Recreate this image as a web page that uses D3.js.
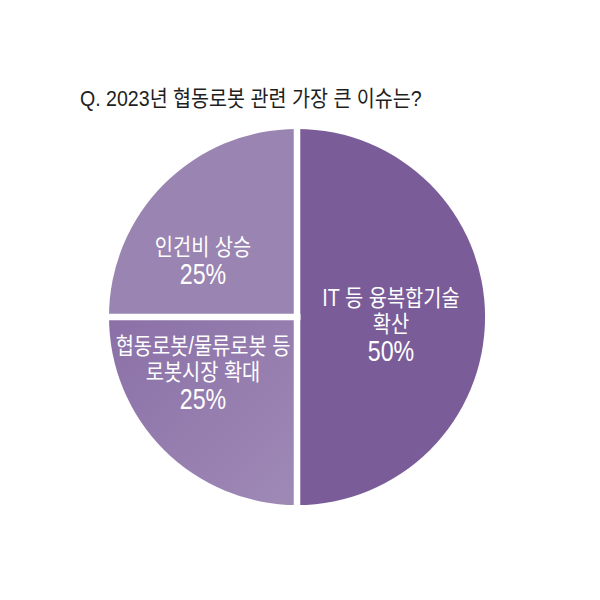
<!DOCTYPE html>
<html>
<head>
<meta charset="utf-8">
<script src="https://cdn.jsdelivr.net/npm/d3@7"></script>
<style>
  html, body { margin: 0; padding: 0; background: #ffffff; }
  svg { display: block; }
  text { font-family: "Liberation Sans", "Noto Sans CJK KR", sans-serif; }
</style>
</head>
<body>
<svg id="chart" width="600" height="600"></svg>
<script>
// Survey: the biggest collaborative-robot issue of 2023
const title = "Q. 2023년 협동로봇 관련 가장 큰 이슈는?";
const categories = [
  ["IT 등 융복합기술", "확산"],
  ["협동로봇/물류로봇 등", "로봇시장 확대"],
  ["인건비 상승"]
];
const shares = [50, 25, 25];
const colors = ["#7a5c99", "#947bae", "#9a84b1"];

const svg = d3.select("#chart");
const cx = 297, cy = 317, R = 188;

// Title
svg.append("text")
  .attr("transform", "translate(80,106) scale(0.89,1)")
  .attr("font-size", 22)
  .attr("fill", "#1e1e1e")
  .text(title);

// Gradient for the lower-left slice
const defs = svg.append("defs");
const grad = defs.append("linearGradient")
  .attr("id", "lowerGrad")
  .attr("x1", "0%").attr("y1", "0%")
  .attr("x2", "100%").attr("y2", "100%");
grad.append("stop").attr("offset", "0%").attr("stop-color", "#8b70a7");
grad.append("stop").attr("offset", "100%").attr("stop-color", "#9f8ab6");

const data = shares.map((v, i) => ({ lines: categories[i], value: v, color: colors[i] }));

const pie = d3.pie().sort(null).value(d => d.value);
const arcs = pie(data);
const arc = d3.arc().innerRadius(0).outerRadius(R);

const g = svg.append("g").attr("transform", `translate(${cx},${cy})`);

g.selectAll("path.slice")
  .data(arcs)
  .join("path")
  .attr("class", "slice")
  .attr("d", arc)
  .attr("fill", (d, i) => i === 1 ? "url(#lowerGrad)" : d.data.color);

// White separators along each slice boundary
g.selectAll("line.sep")
  .data(arcs)
  .join("line")
  .attr("class", "sep")
  .attr("x1", 0).attr("y1", 0)
  .attr("x2", d => Math.sin(d.startAngle) * (R + 4))
  .attr("y2", d => -Math.cos(d.startAngle) * (R + 4))
  .attr("stroke", "#ffffff")
  .attr("stroke-width", 6.5)
  .attr("stroke-linecap", "square");

// Labels: category name line(s) plus percentage
const lineH = 26;
const labels = g.selectAll("g.label")
  .data(arcs)
  .join("g")
  .attr("class", "label")
  .attr("transform", d => {
    const mid = (d.startAngle + d.endAngle) / 2;
    const s = Math.sin(mid);
    const lx = (s > 0 ? 1 : -1) * R * 0.5;
    const ly = -Math.cos(mid) * R * 0.42 + (Math.abs(Math.cos(mid)) < 0.01 ? 8 : 0);
    return `translate(${lx},${ly})`;
  });

labels.each(function(d) {
  const sel = d3.select(this);
  const lines = d.data.lines;
  const n = lines.length + 1;
  const top = -((n - 1) * lineH) / 2;
  lines.forEach((t, i) => {
    sel.append("text")
      .attr("transform", `translate(0,${top + i * lineH + 7}) scale(0.86,1)`)
      .attr("text-anchor", "middle")
      .attr("font-size", 23)
      .attr("fill", "#ffffff")
      .text(t);
  });
  sel.append("text")
    .attr("transform", `translate(0,${top + lines.length * lineH + 10}) scale(0.8,1)`)
    .attr("text-anchor", "middle")
    .attr("font-size", 29)
    .attr("fill", "#ffffff")
    .text(d.data.value + "%");
});
</script>
</body>
</html>
